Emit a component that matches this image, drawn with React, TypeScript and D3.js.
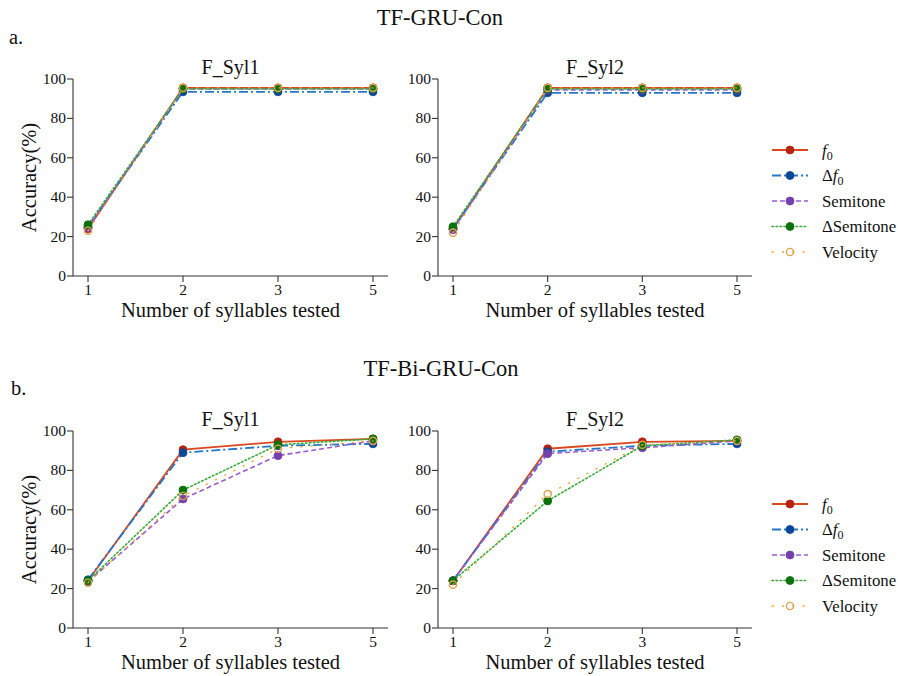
import React from "react";
import * as d3 from "d3";

// Number of syllables tested (categorical x positions)
const syllables = ["1", "2", "3", "5"];
const yTicks = [0, 20, 40, 60, 80, 100];

const seriesNames = ["f0", "df0", "semitone", "dsemitone", "velocity"];

// TF-GRU-Con, F_Syl1
const gruSyl1_f0 = [24, 95.5, 95.5, 95.5];
const gruSyl1_df0 = [25, 93.5, 93.5, 93.5];
const gruSyl1_semitone = [24.5, 95, 95, 95];
const gruSyl1_dsemitone = [26, 95, 95, 95];
const gruSyl1_velocity = [23, 95.5, 95.5, 95.5];

// TF-GRU-Con, F_Syl2
const gruSyl2_f0 = [24, 95.5, 95.5, 95.5];
const gruSyl2_df0 = [24, 93, 93, 93];
const gruSyl2_semitone = [23.5, 94.5, 94.5, 94.5];
const gruSyl2_dsemitone = [25, 95, 95, 95];
const gruSyl2_velocity = [22, 95.5, 95.5, 95.5];

// TF-Bi-GRU-Con, F_Syl1
const biSyl1_f0 = [24, 90.5, 94.5, 96];
const biSyl1_df0 = [24.5, 89, 92.5, 93.5];
const biSyl1_semitone = [23.5, 65.5, 87.5, 95];
const biSyl1_dsemitone = [24, 70, 93, 96];
const biSyl1_velocity = [23, 67, 91, 95];

// TF-Bi-GRU-Con, F_Syl2
const biSyl2_f0 = [24, 91, 94.5, 95];
const biSyl2_df0 = [24, 89.5, 92.5, 93.5];
const biSyl2_semitone = [24, 88.5, 91.5, 95];
const biSyl2_dsemitone = [24, 64.5, 92.5, 95.5];
const biSyl2_velocity = [22, 68, 93, 95];

type Style = {
  line: string;
  marker: string;
  dash: string;
  hollow: boolean;
  width: number;
};

const styles: Record<string, Style> = {
  f0: { line: "#d9481f", marker: "#b8230f", dash: "none", hollow: false, width: 1.8 },
  df0: { line: "#2478c8", marker: "#0b4796", dash: "9,3,2,3", hollow: false, width: 1.8 },
  semitone: { line: "#9a5ad0", marker: "#7440ad", dash: "5,3", hollow: false, width: 1.6 },
  dsemitone: { line: "#3aaa3a", marker: "#0b720b", dash: "1.6,2.4", hollow: false, width: 1.6 },
  velocity: { line: "#f5a23a", marker: "#dca24c", dash: "1.3,9", hollow: true, width: 1.3 },
};

type Panel = {
  title: string;
  x0: number;
  x1: number;
  yTop: number;
  yBottom: number;
  data: Record<string, number[]>;
  showYLabel: boolean;
};

const serifFont = { fontFamily: "'Liberation Serif', 'Times New Roman', serif" };
const axisColor = "#333";

function ChartPanel({ p }: { p: Panel }) {
  const x = d3.scalePoint<string>().domain(syllables).range([p.x0 + 15, p.x1 - 15]);
  const y = d3.scaleLinear().domain([0, 100]).range([p.yBottom, p.yTop]);
  const line = d3
    .line<number>()
    .x((_, i) => x(syllables[i]) as number)
    .y((d) => y(d));
  return (
    <g style={serifFont}>
      <text
        x={(p.x0 + p.x1) / 2}
        y={p.yTop - 5}
        textAnchor="middle"
        fontSize={20}
        style={serifFont}
        fill="#111"
      >
        {p.title}
      </text>
      {/* axes */}
      <line x1={p.x0} x2={p.x0} y1={p.yTop} y2={p.yBottom} stroke={axisColor} strokeWidth={1.1} />
      <line x1={p.x0} x2={p.x1} y1={p.yBottom} y2={p.yBottom} stroke={axisColor} strokeWidth={1.1} />
      {yTicks.map((t) => (
        <g key={t}>
          <line x1={p.x0 - 6} x2={p.x0} y1={y(t)} y2={y(t)} stroke={axisColor} strokeWidth={1.1} />
          <text
            x={p.x0 - 7}
            y={y(t) + 5}
            textAnchor="end"
            fontSize={15.5}
            style={serifFont}
            fill="#111"
          >
            {t}
          </text>
        </g>
      ))}
      {syllables.map((s) => (
        <g key={s}>
          <line
            x1={x(s) as number}
            x2={x(s) as number}
            y1={p.yBottom}
            y2={p.yBottom + 6}
            stroke={axisColor}
            strokeWidth={1.1}
          />
          <text
            x={x(s) as number}
            y={p.yBottom + 19}
            textAnchor="middle"
            fontSize={15.5}
            style={serifFont}
            fill="#111"
          >
            {s}
          </text>
        </g>
      ))}
      <text
        x={(p.x0 + p.x1) / 2}
        y={p.yBottom + 41}
        textAnchor="middle"
        fontSize={20.5}
        style={serifFont}
        fill="#111"
      >
        Number of syllables tested
      </text>
      {p.showYLabel && (
        <text
          transform={`translate(${p.x0 - 37},${(p.yTop + p.yBottom) / 2}) rotate(-90)`}
          textAnchor="middle"
          fontSize={20.5}
          style={serifFont}
          fill="#111"
        >
          Accuracy(%)
        </text>
      )}
      {/* series */}
      {seriesNames.map((name) => {
        const st = styles[name];
        const vals = p.data[name];
        return (
          <g key={name}>
            <path
              d={line(vals) as string}
              fill="none"
              stroke={st.line}
              strokeWidth={st.width}
              strokeDasharray={st.dash}
              strokeLinecap={name === "velocity" || name === "dsemitone" ? "round" : "butt"}
            />
            {vals.map((v, i) => (
              <circle
                key={i}
                cx={x(syllables[i]) as number}
                cy={y(v)}
                r={st.hollow ? 3.6 : 4}
                fill={st.hollow ? "none" : st.marker}
                stroke={st.marker}
                strokeWidth={st.hollow ? 1.4 : 0.8}
              />
            ))}
          </g>
        );
      })}
    </g>
  );
}

const legendLabels: Record<string, React.ReactNode> = {
  f0: (
    <>
      <tspan fontStyle="italic">f</tspan>
      <tspan fontSize={12} dy={4}>0</tspan>
    </>
  ),
  df0: (
    <>
      Δ<tspan fontStyle="italic">f</tspan>
      <tspan fontSize={12} dy={4}>0</tspan>
    </>
  ),
  semitone: "Semitone",
  dsemitone: "ΔSemitone",
  velocity: "Velocity",
};

function Legend({ top }: { top: number }) {
  return (
    <g style={serifFont}>
      {seriesNames.map((name, i) => {
        const st = styles[name];
        const cy = top + i * 25.5;
        return (
          <g key={name}>
            <line
              x1={772}
              x2={808}
              y1={cy}
              y2={cy}
              stroke={st.line}
              strokeWidth={st.width}
              strokeDasharray={st.dash}
              strokeLinecap={name === "velocity" || name === "dsemitone" ? "round" : "butt"}
            />
            <circle
              cx={790}
              cy={cy}
              r={st.hollow ? 3.6 : 4}
              fill={st.hollow ? "none" : st.marker}
              stroke={st.marker}
              strokeWidth={st.hollow ? 1.4 : 0.8}
            />
            <text x={822} y={cy + 5.5} fontSize={16.8} style={serifFont} fill="#111">
              {legendLabels[name]}
            </text>
          </g>
        );
      })}
    </g>
  );
}

const pack = (a: number[], b: number[], c: number[], d: number[], e: number[]) => ({
  f0: a,
  df0: b,
  semitone: c,
  dsemitone: d,
  velocity: e,
});

export default function App() {
  const panels: Panel[] = [
    {
      title: "F_Syl1",
      x0: 73,
      x1: 388,
      yTop: 79,
      yBottom: 276,
      data: pack(gruSyl1_f0, gruSyl1_df0, gruSyl1_semitone, gruSyl1_dsemitone, gruSyl1_velocity),
      showYLabel: true,
    },
    {
      title: "F_Syl2",
      x0: 438,
      x1: 752,
      yTop: 79,
      yBottom: 276,
      data: pack(gruSyl2_f0, gruSyl2_df0, gruSyl2_semitone, gruSyl2_dsemitone, gruSyl2_velocity),
      showYLabel: false,
    },
    {
      title: "F_Syl1",
      x0: 73,
      x1: 388,
      yTop: 431,
      yBottom: 628,
      data: pack(biSyl1_f0, biSyl1_df0, biSyl1_semitone, biSyl1_dsemitone, biSyl1_velocity),
      showYLabel: true,
    },
    {
      title: "F_Syl2",
      x0: 438,
      x1: 752,
      yTop: 431,
      yBottom: 628,
      data: pack(biSyl2_f0, biSyl2_df0, biSyl2_semitone, biSyl2_dsemitone, biSyl2_velocity),
      showYLabel: false,
    },
  ];
  return (
    <svg
      width={898}
      height={676}
      style={{ position: "absolute", left: 0, top: 0, background: "#fff", ...serifFont }}
    >
      <rect width={898} height={676} fill="#fff" />
      <text x={440} y={25} textAnchor="middle" fontSize={22.5} fill="#111">
        TF-GRU-Con
      </text>
      <text x={9} y={44} fontSize={20.5} fill="#111">
        a.
      </text>
      <text x={441} y={376} textAnchor="middle" fontSize={22.5} fill="#111">
        TF-Bi-GRU-Con
      </text>
      <text x={11} y={395} fontSize={20.5} fill="#111">
        b.
      </text>
      {panels.map((p, i) => (
        <ChartPanel key={i} p={p} />
      ))}
      <Legend top={150} />
      <Legend top={504} />
    </svg>
  );
}
